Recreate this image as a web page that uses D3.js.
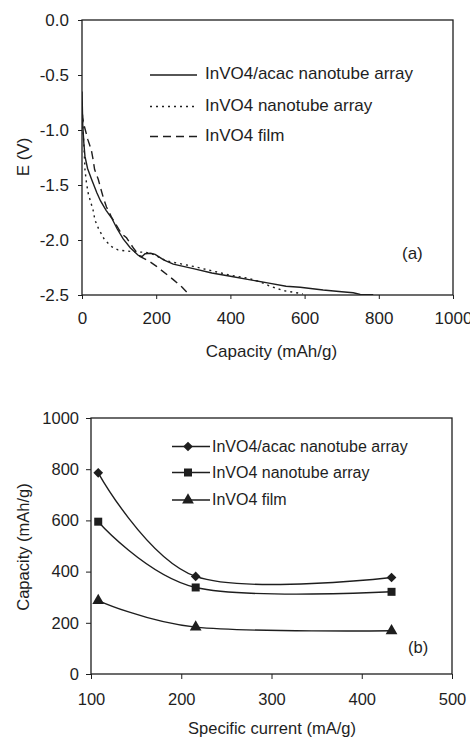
<!DOCTYPE html>
<html><head><meta charset="utf-8">
<script src="https://cdn.jsdelivr.net/npm/d3@7"></script>
<style>
html,body{margin:0;padding:0;background:#fff;}
svg{display:block;font-family:"Liberation Sans",Arial,sans-serif;}
</style></head>
<body>
<svg id="c" width="470" height="738"></svg>
<script>
// ---------- Chart (a): discharge curves ----------
const capAcac = [0, 2, 5, 8, 15, 26, 40, 50, 65, 80, 95, 111, 130, 152, 162, 170, 185, 197, 220, 246, 300, 350, 400, 450, 500, 550, 588, 650, 700, 731, 750, 785];
const eAcac   = [-0.65, -0.95, -1.12, -1.24, -1.35, -1.45, -1.57, -1.645, -1.73, -1.80, -1.90, -1.99, -2.07, -2.14, -2.15, -2.125, -2.12, -2.13, -2.18, -2.22, -2.26, -2.30, -2.33, -2.36, -2.39, -2.42, -2.43, -2.455, -2.47, -2.48, -2.495, -2.497];

const capTube = [0, 3, 6, 8, 12, 17, 30, 35, 45, 61, 80, 97, 120, 151, 165, 185, 228, 300, 400, 450, 480, 507, 543, 588, 595];
const eTube   = [-0.75, -1.0, -1.2, -1.36, -1.48, -1.58, -1.73, -1.82, -1.90, -2.0, -2.06, -2.09, -2.10, -2.11, -2.11, -2.12, -2.19, -2.24, -2.32, -2.35, -2.38, -2.42, -2.46, -2.485, -2.49];

const capFilm = [0, 5, 16, 25, 30, 34, 44, 52, 57, 66, 75, 79, 106, 120, 140, 156, 180, 201, 246, 270, 287];
const eFilm   = [-0.85, -0.95, -1.09, -1.18, -1.27, -1.36, -1.45, -1.55, -1.61, -1.70, -1.76, -1.79, -1.94, -1.98, -2.08, -2.15, -2.19, -2.24, -2.36, -2.43, -2.49];

const seriesA = ["InVO4/acac nanotube array", "InVO4 nanotube array", "InVO4 film"];
const xTicksA = [0, 200, 400, 600, 800, 1000];
const yTicksA = [0, -0.5, -1.0, -1.5, -2.0, -2.5];

// ---------- Chart (b): rate capability ----------
const currentB = [108, 216, 433];
const capB_acac = [786, 381, 377];
const capB_tube = [595, 338, 321];
const capB_film = [287, 183, 169];
const seriesB = ["InVO4/acac nanotube array", "InVO4 nanotube array", "InVO4 film"];
const xTicksB = [100, 200, 300, 400, 500];
const yTicksB = [0, 200, 400, 600, 800, 1000];

const ink = "#1e1e1e";
const svg = d3.select("#c");

// ===== Panel (a) =====
const xA = d3.scaleLinear().domain([0, 1000]).range([82, 453]);
const yA = d3.scaleLinear().domain([-2.5, 0]).range([295, 20]);
const gA = svg.append("g");

gA.append("defs").append("clipPath").attr("id", "clipA")
  .append("rect").attr("x", xA(0)).attr("y", yA(0)).attr("width", xA(1000) - xA(0)).attr("height", yA(-2.5) - yA(0));

const axA_x = gA.append("g").attr("transform", `translate(0,${yA(-2.5)})`)
  .call(d3.axisBottom(xA).tickValues(xTicksA).tickFormat(d3.format("d")).tickSize(4).tickPadding(13));
const axA_y = gA.append("g").attr("transform", `translate(${xA(0)},0)`)
  .call(d3.axisLeft(yA).tickValues(yTicksA).tickFormat(d => d.toFixed(1)).tickSize(4).tickPadding(9));
[axA_x, axA_y].forEach(a => {
  a.selectAll("text").attr("font-size", 17).attr("fill", ink).attr("font-family", "Liberation Sans, Arial, sans-serif");
  a.selectAll("line").attr("stroke", ink);
  a.select(".domain").remove();
});
gA.append("rect").attr("x", xA(0)).attr("y", yA(0)).attr("width", xA(1000) - xA(0)).attr("height", yA(-2.5) - yA(0))
  .attr("fill", "none").attr("stroke", ink).attr("stroke-width", 1.3);

const lineA = d3.line().x(d => xA(d[0])).y(d => yA(d[1]));
const dashes = [null, "2,4", "8,5"];
const dataA = [d3.zip(capAcac, eAcac), d3.zip(capTube, eTube), d3.zip(capFilm, eFilm)];
dataA.forEach((d, i) => {
  gA.append("path").attr("d", lineA(d)).attr("fill", "none").attr("stroke", ink)
    .attr("stroke-width", 1.4).attr("stroke-dasharray", dashes[i]).attr("clip-path", "url(#clipA)");
});

// legend (a)
const legA_y = [75, 106.5, 136.5];
seriesA.forEach((s, i) => {
  gA.append("line").attr("x1", 150).attr("x2", 197).attr("y1", legA_y[i]).attr("y2", legA_y[i])
    .attr("stroke", ink).attr("stroke-width", 1.4).attr("stroke-dasharray", dashes[i]);
  gA.append("text").attr("x", 205).attr("y", legA_y[i] + 4).attr("font-size", 17).attr("fill", ink).text(s);
});
gA.append("text").attr("x", 402).attr("y", 259).attr("font-size", 17).attr("fill", ink).text("(a)");
gA.append("text").attr("x", (xA(0) + xA(1000)) / 2 + 4).attr("y", 357).attr("text-anchor", "middle")
  .attr("font-size", 17).attr("fill", ink).text("Capacity (mAh/g)");
gA.append("text").attr("transform", `translate(29,157) rotate(-90)`).attr("text-anchor", "middle")
  .attr("font-size", 17).attr("fill", ink).text("E (V)");

// ===== Panel (b) =====
const xB = d3.scaleLinear().domain([100, 500]).range([91, 452]);
const yB = d3.scaleLinear().domain([0, 1000]).range([674, 418]);
const gB = svg.append("g");

const axB_x = gB.append("g").attr("transform", `translate(0,${yB(0)})`)
  .call(d3.axisBottom(xB).tickValues(xTicksB).tickFormat(d3.format("d")).tickSize(5).tickPadding(14));
const axB_y = gB.append("g").attr("transform", `translate(${xB(100)},0)`)
  .call(d3.axisLeft(yB).tickValues(yTicksB).tickFormat(d3.format("d")).tickSize(5).tickPadding(7));
[axB_x, axB_y].forEach(a => {
  a.selectAll("text").attr("font-size", 16.5).attr("fill", ink).attr("font-family", "Liberation Sans, Arial, sans-serif");
  a.selectAll("line").attr("stroke", ink);
  a.select(".domain").remove();
});
gB.append("rect").attr("x", xB(100)).attr("y", yB(1000)).attr("width", xB(500) - xB(100)).attr("height", yB(0) - yB(1000))
  .attr("fill", "none").attr("stroke", ink).attr("stroke-width", 1.3);

const lineB = d3.line().x(d => xB(d[0])).y(d => yB(d[1])).curve(d3.curveCardinal.tension(0));
const dataB = [d3.zip(currentB, capB_acac), d3.zip(currentB, capB_tube), d3.zip(currentB, capB_film)];
const symB = [d3.symbolDiamond2, d3.symbolSquare, d3.symbolTriangle];
const symSize = [60, 64, 60];
dataB.forEach((d, i) => {
  gB.append("path").attr("d", lineB(d)).attr("fill", "none").attr("stroke", ink).attr("stroke-width", 1.4);
  gB.selectAll(null).data(d).enter().append("path")
    .attr("transform", p => `translate(${xB(p[0])},${yB(p[1])})`)
    .attr("d", d3.symbol().type(symB[i]).size(symSize[i])).attr("fill", ink);
});

// legend (b)
const legB_y = [446.5, 472.5, 500];
seriesB.forEach((s, i) => {
  gB.append("line").attr("x1", 172).attr("x2", 210).attr("y1", legB_y[i]).attr("y2", legB_y[i])
    .attr("stroke", ink).attr("stroke-width", 1.4);
  gB.append("path").attr("transform", `translate(188,${legB_y[i]})`)
    .attr("d", d3.symbol().type(symB[i]).size(symSize[i])).attr("fill", ink);
  gB.append("text").attr("x", 212).attr("y", legB_y[i] + 5).attr("font-size", 16).attr("fill", ink).text(s);
});
gB.append("text").attr("x", 408).attr("y", 653).attr("font-size", 16.5).attr("fill", ink).text("(b)");
gB.append("text").attr("x", 272).attr("y", 734).attr("text-anchor", "middle")
  .attr("font-size", 16.5).attr("fill", ink).text("Specific current (mA/g)");
gB.append("text").attr("transform", `translate(29,547) rotate(-90)`).attr("text-anchor", "middle")
  .attr("font-size", 16.5).attr("fill", ink).text("Capacity (mAh/g)");
</script>
</body></html>
